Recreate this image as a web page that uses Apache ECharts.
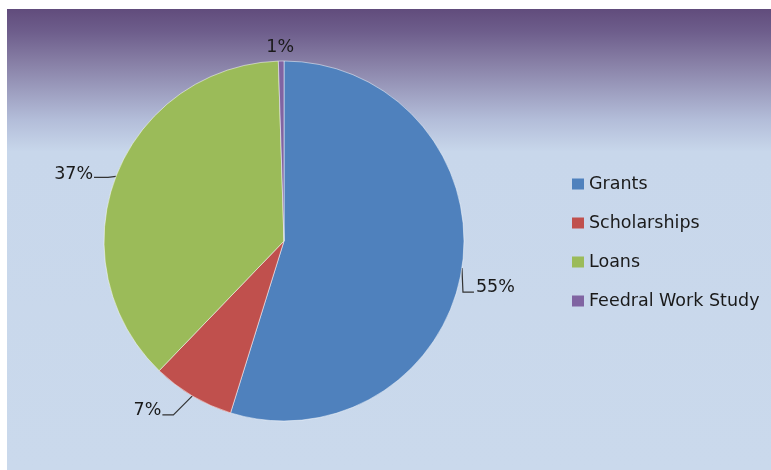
<!DOCTYPE html>
<html>
<head>
<meta charset="utf-8">
<script src="https://cdn.jsdelivr.net/npm/echarts@6/dist/echarts.min.js"></script>
<style>
  html, body { margin: 0; padding: 0; background: #ffffff; }
  #main { width: 771px; height: 470px; }
</style>
</head>
<body>
<div id="main"></div>
<script>
// categories and shares
var categories = ['Grants', 'Scholarships', 'Loans', 'Feedral Work Study'];
var shares = [548, 74, 373, 5];
var colors = ['#4F81BD', '#C0504D', '#9BBB59', '#8064A2'];

var chart = echarts.init(document.getElementById('main'));

var pieData = categories.map(function (name, i) {
  var item = { name: name, value: shares[i], itemStyle: { color: colors[i] } };
  if (i === 3) item.labelLine = { show: false };
  return item;
});

// Excel-style leader lines, built from the point where ECharts' own line leaves the slice
function excelLabel(p) {
  var p0 = p.labelLinePoints ? p.labelLinePoints[0] : [p.labelRect.x, p.labelRect.y];
  var x = p0[0], y = p0[1];
  switch (p.dataIndex) {
    case 0:
      return { x: x + 14, y: y + 19, align: 'left', verticalAlign: 'middle',
        labelLinePoints: [[x, y], [x + 1, y + 24], [x + 12, y + 24]] };
    case 1:
      return { x: x - 31, y: y + 15, align: 'right', verticalAlign: 'middle',
        labelLinePoints: [[x, y], [x - 19, y + 19], [x - 30, y + 19]] };
    case 2:
      return { x: x - 23, y: y - 2, align: 'right', verticalAlign: 'middle',
        labelLinePoints: [[x, y], [x - 8, y + 1], [x - 22, y + 1]] };
    default:
      return { x: x - 1, y: y - 14, align: 'center', verticalAlign: 'middle' };
  }
}

var option = {
  backgroundColor: '#ffffff',
  graphic: [{
    type: 'rect',
    left: 7,
    top: 9,
    z: -10,
    shape: { width: 764, height: 461 },
    style: {
      fill: new echarts.graphic.LinearGradient(0, 0, 0, 1, [
        { offset: 0, color: '#614C7C' },
        { offset: 0.05, color: '#6E5E8C' },
        { offset: 0.11, color: '#857CA3' },
        { offset: 0.24, color: '#B3BDD9' },
        { offset: 0.31, color: '#C8D7EB' },
        { offset: 1, color: '#CAD9EC' }
      ])
    }
  }],
  legend: {
    orient: 'vertical',
    left: 572,
    top: 175,
    padding: 0,
    itemWidth: 12,
    itemHeight: 11,
    itemGap: 21,
    icon: 'rect',
    itemStyle: { borderWidth: 0 },
    textStyle: { fontFamily: 'DejaVu Sans', fontSize: 17.5, color: '#1a1a1a' },
    data: categories
  },
  series: [{
    type: 'pie',
    center: [284, 241],
    radius: 180,
    startAngle: 90,
    clockwise: true,
    animation: false,
    data: pieData,
    itemStyle: { borderColor: '#ffffff', borderWidth: 0.5 },
    label: {
      show: true,
      position: 'outside',
      fontFamily: 'DejaVu Sans',
      fontSize: 17.5,
      color: '#1a1a1a',
      formatter: function (p) { return Math.round(p.percent) + '%'; }
    },
    labelLine: {
      show: true,
      length: 6,
      length2: 10,
      lineStyle: { color: '#333333', width: 1.2 }
    },
    labelLayout: excelLabel,
    emphasis: { disabled: true }
  }]
};

chart.setOption(option);
</script>
</body>
</html>
